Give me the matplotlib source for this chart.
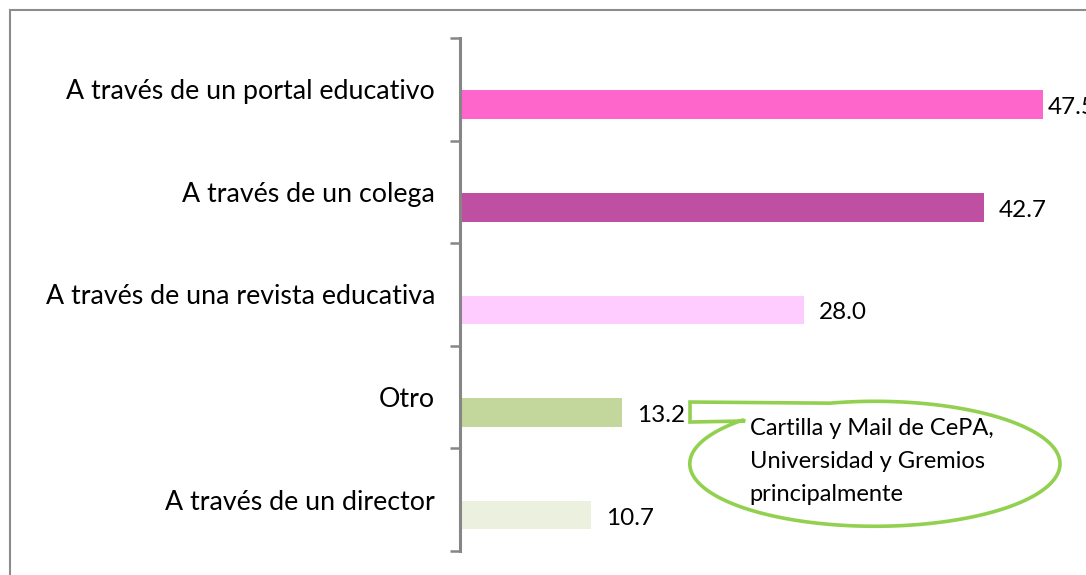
import matplotlib
matplotlib.use('Agg')
import matplotlib.pyplot as plt
import numpy as np
from matplotlib.patches import PathPatch, Rectangle
from matplotlib.path import Path

plt.rcParams['font.family'] = ['Lato', 'DejaVu Sans']

# === data ===
categories = ['A través de un portal educativo', 'A través de un colega',
              'A través de una revista educativa', 'Otro', 'A través de un director']
values = [47.5, 42.7, 28.0, 13.2, 10.7]
colors = ['#FF66CC', '#BF4FA0', '#FFCCFF', '#C3D69B', '#EBF1DE']
callout_text = 'Cartilla y Mail de CePA,\nUniversidad y Gremios\nprincipalmente'

W, H = 1086, 575
XMAX = 51
fig = plt.figure(figsize=(W / 100, H / 100), dpi=100)
ax = fig.add_axes([460 / W, 24 / H, 626 / W, 513 / H])

# marco exterior del gráfico
fig.patches.append(Rectangle((10 / W, -0.1), 1.2, (H - 10) / H + 0.1,
                             transform=fig.transFigure, fill=False,
                             edgecolor='#8C8C8C', linewidth=1.5))

y = np.arange(len(categories))
ax.barh(y + 0.15, values, height=0.28, color=colors)
for yi, v in zip(y, values):
    # como en Excel: la etiqueta se arrima a la barra si no cabe
    off = 1.2 if v + 1.2 < XMAX - 4 else 0.35
    ax.text(v + off, yi + 0.18, f'{v:.1f}', va='center', ha='left',
            fontsize=17.5, color='black', clip_on=False)

ax.set_xlim(0, XMAX)
ax.set_ylim(len(categories) - 0.5, -0.5)
ax.set_yticks(y)
ax.set_yticklabels(categories, fontsize=19.3)
ax.set_yticks(np.arange(len(categories) + 1) - 0.5, minor=True)
ax.tick_params(axis='y', which='major', length=0, pad=18)
ax.tick_params(axis='y', which='minor', length=7, width=1.8, color='#868686')
ax.set_xticks([])
for s in ['top', 'right', 'bottom']:
    ax.spines[s].set_visible(False)
ax.spines['left'].set_color('#868686')
ax.spines['left'].set_linewidth(2.2)

# === globo de comentario (llamada ovalada) ===
cx, cy, a, b = 33.8, 3.65, 15.08, 0.609
t = np.radians(np.linspace(135.6, 464, 200))
xs = cx + a * np.cos(t)
ys = cy - b * np.sin(t)
tail = [(18.74, 3.048), (18.74, 3.243), (23.23, 3.233)]
verts = list(zip(xs, ys)) + tail + [(xs[0], ys[0])]
codes = [Path.MOVETO] + [Path.LINETO] * (len(verts) - 2) + [Path.CLOSEPOLY]
ax.add_patch(PathPatch(Path(verts, codes), facecolor='none', edgecolor='#92D050',
                       linewidth=2.6, clip_on=False, zorder=3))
ax.text(23.6, 3.63, callout_text, va='center', ha='left', fontsize=17,
        linespacing=1.7, clip_on=False, zorder=4)

fig.savefig('out.png', dpi=100)
